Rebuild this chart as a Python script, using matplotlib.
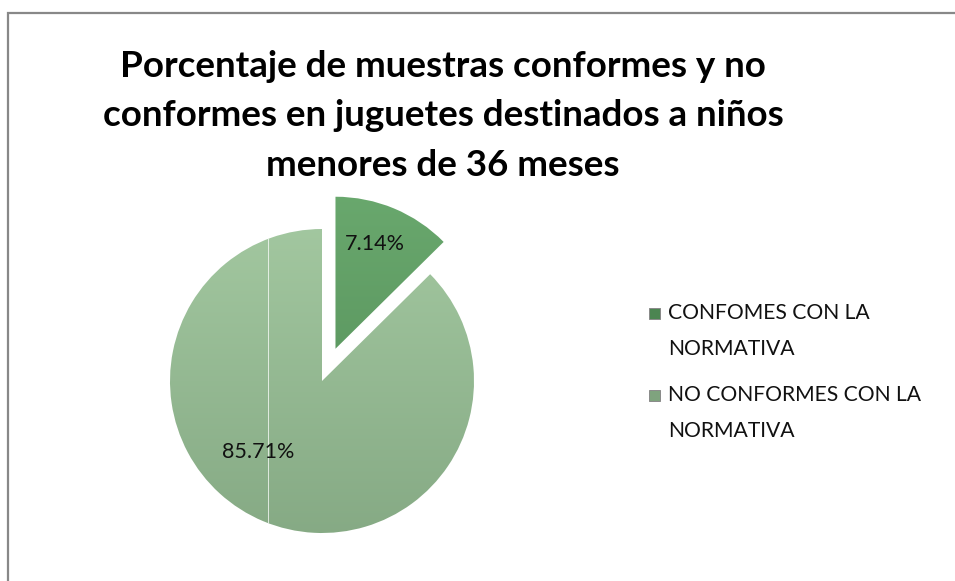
import matplotlib.pyplot as plt
import numpy as np
from matplotlib.patches import Rectangle
from matplotlib.colors import to_rgb

# slice sizes, labels as printed on the chart
categories = ['CONFOMES CON LA\nNORMATIVA', 'NO CONFORMES CON LA\nNORMATIVA']
slice_sizes = [12.6, 87.4]
slice_labels = ['7.14%', '85.71%']

colors_top = ['#6cab70', '#a9cea6']
colors_bottom = ['#4c8551', '#7fa37e']

plt.rcParams['font.family'] = ['Lato', 'DejaVu Sans']

W, H = 955, 581
fig = plt.figure(figsize=(W / 100, H / 100), dpi=100)

# chart frame (continues past the right and bottom edges)
fig.add_artist(Rectangle((8 / W, -0.05), 1.2, 1 - 13 / H + 0.05,
                         transform=fig.transFigure, fill=False,
                         edgecolor='#888888', linewidth=1.6))

fig.text(0.464, 1 - 116 / H, 'Porcentaje de muestras conformes y no\nconformes en juguetes destinados a niños\nmenores de 36 meses',
         ha='center', va='center', fontsize=26.5, fontweight='bold', linespacing=1.62)

# pie axes: big slice center at (322, 381) px, radius ~152 px
r_px = 152
cx, cy = 322, H - 381
ax = fig.add_axes([(cx - r_px * 1.5) / W, (cy - r_px * 1.5) / H,
                   r_px * 3 / W, r_px * 3 / H])
wedges, _ = ax.pie(slice_sizes, startangle=90, counterclock=False,
                   explode=[0.23, 0], radius=1)
ax.set_xlim(-1.5, 1.5)
ax.set_ylim(-1.5, 1.5)
ax.set_aspect('equal')
ax.axis('off')

grad = np.linspace(1, 0, 256).reshape(-1, 1, 1)
for w, c0, c1 in zip(wedges, colors_top, colors_bottom):
    w.set_facecolor('none')
    w.set_edgecolor('none')
    img = grad * np.array(to_rgb(c0)) + (1 - grad) * np.array(to_rgb(c1))
    im = ax.imshow(img, extent=[-1.5, 1.5, -1.5, 1.5], origin='upper',
                   aspect='auto', zorder=1)
    im.set_clip_path(w)

# thin white streak visible in the big slice
streak = ax.axvline(-0.355, color='white', linewidth=0.6, alpha=0.85, zorder=2)
streak.set_clip_path(wedges[1])

# value labels
label_pos = [(0.35, 0.9), (-0.42, -0.47)]
for (x, y), t in zip(label_pos, slice_labels):
    ax.text(x, y, t, ha='center', va='center', fontsize=15.5, color='#111111', zorder=3)

# legend drawn by hand so the marker sits on the first text line
leg_y = [314, 396]
for y, lab, c0, c1 in zip(leg_y, categories, colors_top, colors_bottom):
    fig.add_artist(Rectangle((649 / W, 1 - (y + 5) / H), 11 / W, 11 / H,
                             transform=fig.transFigure, facecolor=c1,
                             edgecolor='#8a8a8a', linewidth=0.7))
    fig.text(668 / W, 1 - (y + 17) / H, lab, ha='left', va='center', fontsize=15.2,
             color='#111111', linespacing=2.0)

fig.savefig('out.png', dpi=100)
